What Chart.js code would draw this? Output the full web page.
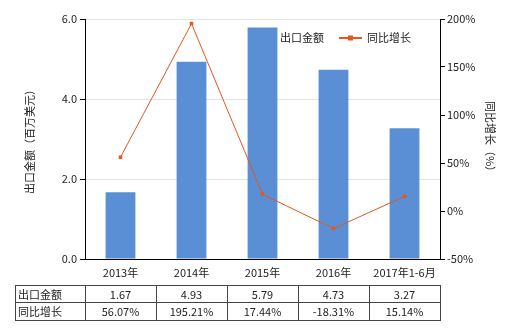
<!DOCTYPE html>
<html>
<head>
<meta charset="utf-8">
<script src="https://cdn.jsdelivr.net/npm/chart.js@4.4.0/dist/chart.umd.min.js"></script>
<style>
  html, body { margin: 0; padding: 0; background: #fff; }
  #wrap { width: 520px; height: 330px; }
</style>
</head>
<body>
<div id="wrap"><canvas id="chart" width="520" height="330"></canvas></div>
<script>
// 出口金额 / 同比增长
const categories = ['2013年', '2014年', '2015年', '2016年', '2017年1-6月'];
const exportValues = [1.67, 4.93, 5.79, 4.73, 3.27];
const growthValues = [56.07, 195.21, 17.44, -18.31, 15.14];
const exportLabels = ['1.67', '4.93', '5.79', '4.73', '3.27'];
const growthLabels = ['56.07%', '195.21%', '17.44%', '-18.31%', '15.14%'];

const FONT = "'Noto Sans CJK SC', 'Noto Sans', sans-serif";
const BAR_COLOR = '#5a8fd6';
const LINE_COLOR = '#e2581e';
const TEXT_COLOR = '#222';

Chart.defaults.font.family = FONT;
Chart.defaults.font.size = 11;
Chart.defaults.color = TEXT_COLOR;

// 图例、轴标题和下方数据表
const extras = {
    id: 'extras',
    afterDraw(chart) {
        const ctx = chart.ctx;
        const area = chart.chartArea;
        const x = chart.scales.x;
        ctx.save();
        ctx.font = '11px ' + FONT;
        ctx.fillStyle = TEXT_COLOR;

        // 轴标题
        const midY = (area.top + area.bottom) / 2;
        ctx.textAlign = 'center';
        ctx.textBaseline = 'middle';
        ctx.save();
        ctx.translate(30, midY);
        ctx.rotate(-Math.PI / 2);
        ctx.fillText('出口金额（百万美元）', 0, 0);
        ctx.restore();
        ctx.save();
        ctx.translate(490, midY);
        ctx.rotate(Math.PI / 2);
        ctx.fillText('同比增长（%）', 0, 0);
        ctx.restore();

        // 图例
        ctx.fillStyle = BAR_COLOR;
        ctx.fillRect(264, 33, 10, 10);
        ctx.fillStyle = TEXT_COLOR;
        ctx.textAlign = 'left';
        ctx.fillText('出口金额', 280, 38);
        ctx.strokeStyle = LINE_COLOR;
        ctx.lineWidth = 2;
        ctx.beginPath();
        ctx.moveTo(339, 38);
        ctx.lineTo(362, 38);
        ctx.stroke();
        ctx.fillStyle = LINE_COLOR;
        ctx.fillRect(348, 35.5, 5, 5);
        ctx.fillStyle = TEXT_COLOR;
        ctx.fillText('同比增长', 367, 38);

        // 数据表
        const top = 285, mid = 302, bottom = 320, left = 15;
        const n = categories.length;
        const step = (area.right - area.left) / n;
        ctx.strokeStyle = '#444';
        ctx.lineWidth = 1;
        ctx.beginPath();
        [top, mid, bottom].forEach(y => {
            ctx.moveTo(left, y + 0.5);
            ctx.lineTo(area.right, y + 0.5);
        });
        ctx.moveTo(left + 0.5, top);
        ctx.lineTo(left + 0.5, bottom + 1);
        for (let i = 0; i <= n; i++) {
            const xx = Math.round(area.left + step * i) + 0.5;
            ctx.moveTo(xx, top);
            ctx.lineTo(xx, bottom + 1);
        }
        ctx.stroke();

        ctx.textAlign = 'left';
        ctx.fillText('出口金额', left + 3, (top + mid) / 2 + 1);
        ctx.fillText('同比增长', left + 3, (mid + bottom) / 2 + 1);
        ctx.textAlign = 'center';
        for (let i = 0; i < n; i++) {
            const cx = x.getPixelForValue(i);
            ctx.fillText(exportLabels[i], cx, (top + mid) / 2 + 1);
            ctx.fillText(growthLabels[i], cx, (mid + bottom) / 2 + 1);
        }
        ctx.restore();
    }
};

new Chart(document.getElementById('chart'), {
    data: {
        labels: categories,
        datasets: [
            {
                type: 'line',
                label: '同比增长',
                data: growthValues,
                yAxisID: 'y1',
                borderColor: LINE_COLOR,
                backgroundColor: LINE_COLOR,
                borderWidth: 1,
                pointStyle: 'rect',
                pointRadius: 2.5,
                pointBorderWidth: 0,
                tension: 0,
                order: 0
            },
            {
                type: 'bar',
                label: '出口金额',
                data: exportValues,
                yAxisID: 'y',
                backgroundColor: BAR_COLOR,
                categoryPercentage: 1,
                barPercentage: 0.42,
                order: 1
            }
        ]
    },
    options: {
        responsive: false,
        animation: false,
        layout: { padding: { top: 19, left: 0, right: 0, bottom: 0 } },
        plugins: {
            legend: { display: false },
            tooltip: { enabled: false }
        },
        scales: {
            x: {
                grid: { display: false, drawTicks: false },
                border: { display: true, color: '#000', width: 1 },
                ticks: { padding: 7, color: TEXT_COLOR, maxRotation: 0 },
                afterFit: s => { s.height = 71; }
            },
            y: {
                position: 'left',
                min: 0,
                max: 6,
                ticks: {
                    stepSize: 2,
                    padding: 3,
                    color: TEXT_COLOR,
                    callback: v => v.toFixed(1)
                },
                grid: { color: '#e4e4e4', tickColor: '#000', tickLength: 5 },
                border: { display: true, color: '#000', width: 1 },
                afterFit: s => { s.width = 85; }
            },
            y1: {
                position: 'right',
                min: -50,
                max: 200,
                ticks: {
                    stepSize: 50,
                    padding: 2,
                    color: TEXT_COLOR,
                    callback: v => v + '%'
                },
                grid: { drawOnChartArea: false, tickColor: '#000', tickLength: 5 },
                border: { display: true, color: '#000', width: 1 },
                afterFit: s => { s.width = 80; }
            }
        }
    },
    plugins: [extras]
});
</script>
</body>
</html>
